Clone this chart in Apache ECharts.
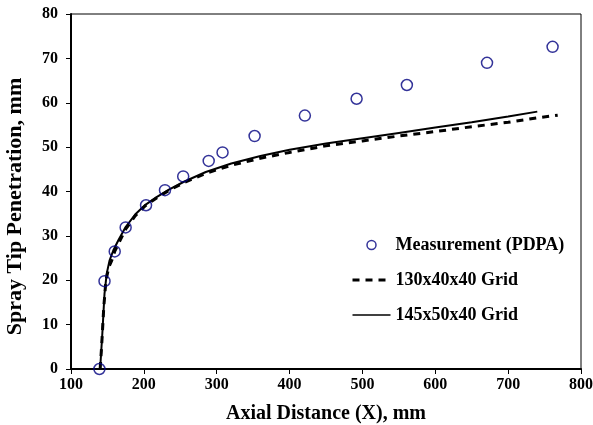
<!DOCTYPE html>
<html>
<head>
<meta charset="utf-8">
<script src="https://cdn.jsdelivr.net/npm/echarts@6/dist/echarts.min.js"></script>
<style>
    html, body { margin: 0; padding: 0; background: #fff; }
    #chart { width: 593px; height: 425px; }
</style>
</head>
<body>
<div id="chart"></div>
<script>
// measurement (PDPA)
var measX = [139, 146, 160, 175, 203, 229, 254, 289, 308, 352, 421, 492, 561, 671, 761];
var measY = [0, 19.8, 26.5, 31.9, 36.9, 40.3, 43.4, 46.9, 48.8, 52.5, 57.1, 60.9, 64.0, 69.0, 72.6];

// 130x40x40 grid (dashed)
var coarseX = [140, 142, 145, 148, 152, 156, 160, 166, 175, 188, 202, 218, 235, 255, 285, 320, 360, 400, 450, 500, 550, 600, 650, 700, 740, 768];
var coarseY = [0, 5, 14, 20, 23, 24.5, 26.5, 28.5, 31.5, 34.5, 36.8, 38.6, 40.3, 42, 44.1, 45.9, 47.5, 48.8, 50.3, 51.4, 52.5, 53.5, 54.6, 55.6, 56.6, 57.2];

// 145x50x40 grid (solid)
var fineX = [140, 143, 146, 149, 153, 158, 165, 175, 188, 202, 218, 235, 255, 285, 320, 360, 400, 450, 500, 550, 600, 650, 700, 740];
var fineY = [0, 8, 17, 21.5, 24.5, 26.7, 29, 32, 34.8, 37, 38.8, 40.5, 42.2, 44.4, 46.3, 48, 49.4, 50.8, 52, 53.2, 54.4, 55.6, 56.9, 58];

var seriesNames = ['Measurement (PDPA)', '130x40x40 Grid', '145x50x40 Grid'];

function pairs(xs, ys) {
    var out = [];
    for (var i = 0; i < xs.length; i++) {
        out.push([xs[i], ys[i]]);
    }
    return out;
}

var font = 'Liberation Serif';
var noSymbol = { color: 'rgba(0,0,0,0)', borderColor: 'rgba(0,0,0,0)', borderWidth: 0 };
var chart = echarts.init(document.getElementById('chart'));
var option = {
    animation: false,
    grid: {
        left: 71,
        right: 12,
        top: 14,
        bottom: 56,
        outerBoundsMode: 'none',
        show: true,
        borderColor: '#000',
        borderWidth: 1
    },
    legend: {
        orient: 'vertical',
        left: 346,
        top: 231,
        itemWidth: 38,
        itemHeight: 9,
        itemGap: 17,
        data: [
            { name: seriesNames[0], icon: 'circle', itemStyle: { color: '#fff', borderColor: '#000080', borderWidth: 1.5 } },
            { name: seriesNames[1], itemStyle: noSymbol, lineStyle: { color: '#000', width: 3, type: [7, 6] } },
            { name: seriesNames[2], itemStyle: noSymbol, lineStyle: { color: '#000', width: 1.5 } }
        ],
        textStyle: { fontFamily: font, fontWeight: 'bold', fontSize: 18, color: '#000' }
    },
    xAxis: {
        type: 'value',
        min: 100,
        max: 800,
        interval: 100,
        name: 'Axial Distance (X), mm',
        nameLocation: 'middle',
        nameGap: 35,
        nameTextStyle: { fontFamily: font, fontWeight: 'bold', fontSize: 20, color: '#000' },
        axisLine: { lineStyle: { color: '#000', width: 2 } },
        axisTick: { length: 5, lineStyle: { color: '#000', width: 1 } },
        axisLabel: { fontFamily: font, fontWeight: 'bold', fontSize: 16, color: '#000', margin: 8 },
        splitLine: { show: false }
    },
    yAxis: {
        type: 'value',
        min: 0,
        max: 80,
        interval: 10,
        name: 'Spray Tip Penetration, mm',
        nameLocation: 'middle',
        nameGap: 45,
        nameTextStyle: { fontFamily: font, fontWeight: 'bold', fontSize: 22, color: '#000', padding: [0, 30, 0, 0] },
        axisLine: { lineStyle: { color: '#000', width: 2 } },
        axisTick: { length: 5, lineStyle: { color: '#000', width: 1 } },
        axisLabel: { fontFamily: font, fontWeight: 'bold', fontSize: 16, color: '#000', margin: 13 },
        splitLine: { show: false }
    },
    series: [
        {
            name: seriesNames[0],
            type: 'scatter',
            symbol: 'circle',
            symbolSize: 11,
            itemStyle: { color: 'rgba(255,255,255,0)', borderColor: '#000080', borderWidth: 1.5 },
            z: 5,
            data: pairs(measX, measY)
        },
        {
            name: seriesNames[1],
            type: 'line',
            symbol: 'none',
            lineStyle: { color: '#000', width: 3, type: [7, 6] },
            itemStyle: { color: '#000' },
            data: pairs(coarseX, coarseY)
        },
        {
            name: seriesNames[2],
            type: 'line',
            symbol: 'none',
            lineStyle: { color: '#000', width: 2 },
            itemStyle: { color: '#000' },
            data: pairs(fineX, fineY)
        }
    ]
};
chart.setOption(option);
</script>
</body>
</html>
